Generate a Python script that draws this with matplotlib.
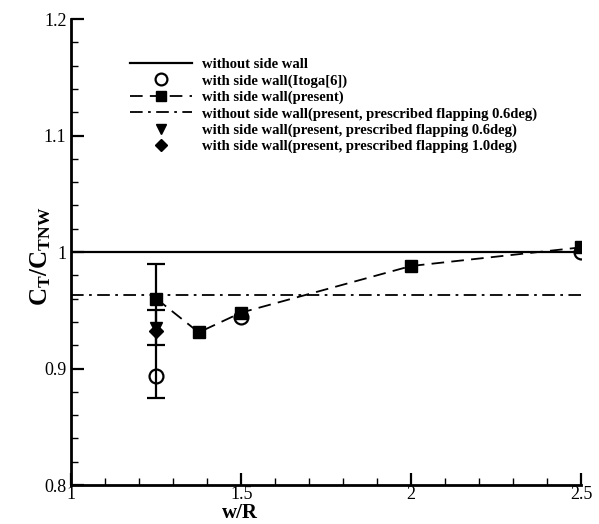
import matplotlib.pyplot as plt
from matplotlib.ticker import MultipleLocator
import numpy as np

plt.rcParams['font.family'] = ['Liberation Serif', 'DejaVu Serif']
plt.rcParams['mathtext.fontset'] = 'custom'
plt.rcParams['mathtext.rm'] = 'Liberation Serif'
plt.rcParams['mathtext.bf'] = 'Liberation Serif:bold'

# data
no_wall_y = 1.0
itoga_x = [1.25, 1.5, 2.5]
itoga_y = [0.894, 0.944, 1.0]
present_x = [1.25, 1.375, 1.5, 2.0, 2.5]
present_y = [0.960, 0.931, 0.948, 0.988, 1.004]
flap_nowall_y = 0.963
flap06_x = [1.25]
flap06_y = [0.935]
flap10_x = [1.25]
flap10_y = [0.932]
# error bars at w/R = 1.25 (low, high)
err_present = (0.92, 0.99)
err_itoga = (0.875, 0.95)

labels = ['without side wall',
          'with side wall(Itoga[6])',
          'with side wall(present)',
          'without side wall(present, prescribed flapping 0.6deg)',
          'with side wall(present, prescribed flapping 0.6deg)',
          'with side wall(present, prescribed flapping 1.0deg)']

fig = plt.figure(figsize=(5.99, 5.24), dpi=100)
ax = fig.add_axes([0.119, 0.0744, 0.851, 0.8893])

h1 = ax.axhline(no_wall_y, color='k', lw=1.6)
h2, = ax.plot(itoga_x, itoga_y, ls='none', marker='o', ms=10, mfc='white',
              mec='k', mew=1.6)
h3, = ax.plot(present_x, present_y, ls=(0, (7, 4)), color='k', lw=1.3,
              marker='s', ms=9)
h4 = ax.axhline(flap_nowall_y, color='k', lw=1.3, ls=(0, (7, 3, 1.5, 3)))
h5, = ax.plot(flap06_x, flap06_y, ls='none', marker='v', ms=9, color='k')
h6, = ax.plot(flap10_x, flap10_y, ls='none', marker='D', ms=7.5, color='k')

for (lo, hi) in (err_present, err_itoga):
    ax.errorbar([1.25], [(lo + hi) / 2], yerr=[[(hi - lo) / 2], [(hi - lo) / 2]],
                fmt='none', ecolor='k', elinewidth=1.6, capsize=6.5, capthick=1.6)

ax.set_xlim(1, 2.5)
ax.set_ylim(0.8, 1.2)
ax.xaxis.set_minor_locator(MultipleLocator(0.1))
ax.yaxis.set_minor_locator(MultipleLocator(0.02))
ax.set_xticks([1, 1.5, 2, 2.5], ['1', '1.5', '2', '2.5'])
ax.set_yticks([0.8, 0.9, 1.0, 1.1, 1.2], ['0.8', '0.9', '1', '1.1', '1.2'])
ax.tick_params(which='both', direction='in', width=1.6, labelsize=13,
               top=False, right=False)
ax.tick_params(which='major', length=9)
ax.tick_params(which='minor', length=5, width=1.0)
ax.tick_params(axis='x', pad=1)
for s in ('top', 'right'):
    ax.spines[s].set_visible(False)
for s in ('left', 'bottom'):
    ax.spines[s].set_linewidth(2)

ax.set_xlabel('w/R', fontsize=15, fontweight='bold', va='bottom')
ax.xaxis.set_label_coords(0.331, -0.081)
ax.set_ylabel(r'$\mathbf{C_T/C_{TNW}}$', fontsize=18)
ax.yaxis.set_label_coords(-0.036, 0.49)

ax.legend([h1, h2, h3, h4, h5, h6], labels, loc='upper left',
          bbox_to_anchor=(0.217, 0.889), bbox_transform=fig.transFigure,
          frameon=False, handlelength=4.25, handletextpad=0.7,
          labelspacing=0.2, prop={'weight': 'bold', 'size': 10.5},
          borderpad=0, borderaxespad=0, markerscale=0.85)

fig.savefig('out.png', dpi=100)
